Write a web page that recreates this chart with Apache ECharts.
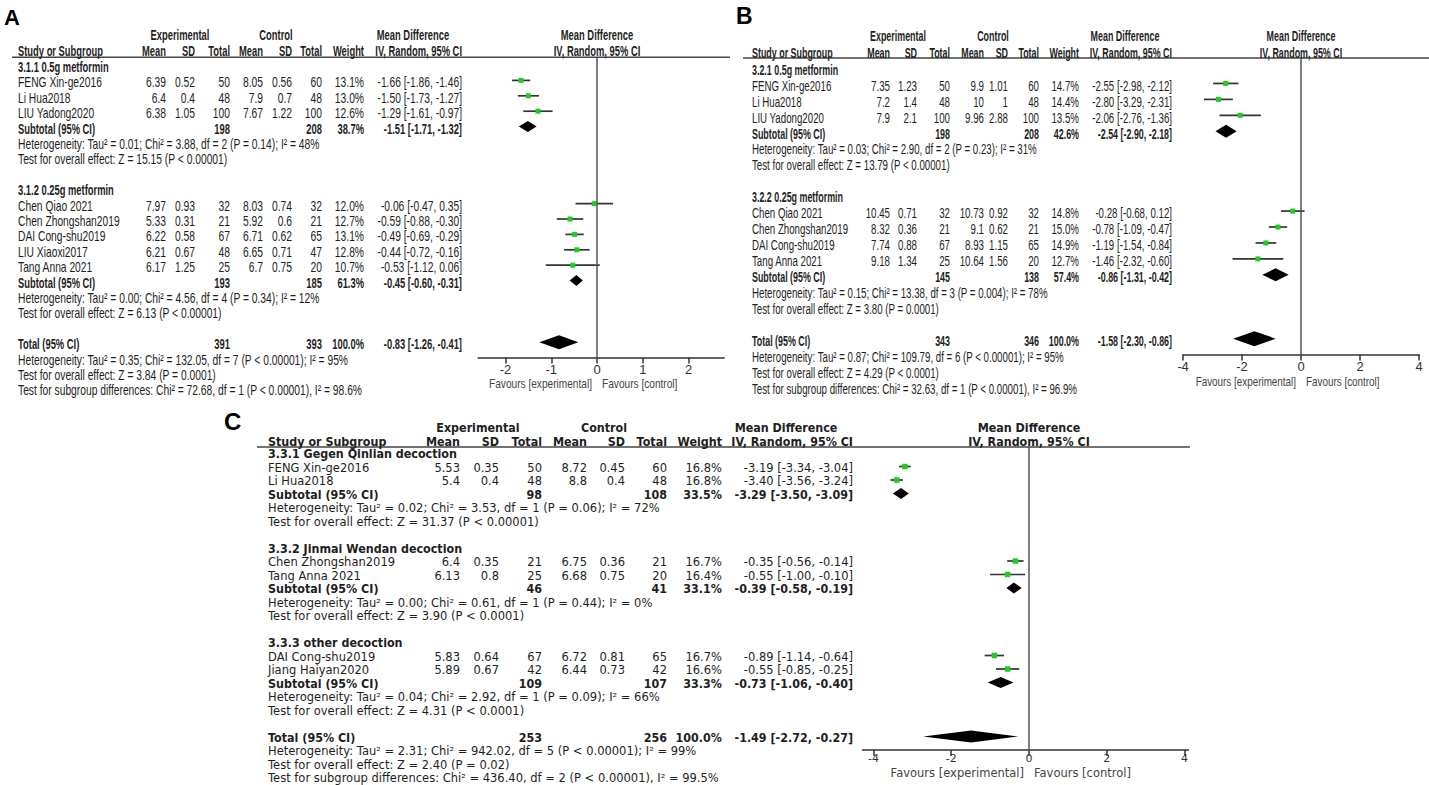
<!DOCTYPE html>
<html><head><meta charset="utf-8">
<script src="https://cdn.jsdelivr.net/npm/echarts@6/dist/echarts.min.js"></script>
<style>html,body{margin:0;padding:0;background:#fff}#c{width:1429px;height:785px}</style>
</head><body><div id="c"></div>
<script>
// ================= DATA =================
// study rows: [subgroup index, study, exp mean, exp SD, exp total, ctl mean, ctl SD, ctl total, weight %, MD, lower, upper]
const A_subgroups = ["3.1.1 0.5g metformin", "3.1.2 0.25g metformin"];
const A_studies = [
  [0, "FENG Xin-ge2016", 6.39, 0.52, 50, 8.05, 0.56, 60, 13.1, -1.66, -1.86, -1.46],
  [0, "Li Hua2018", 6.4, 0.4, 48, 7.9, 0.7, 48, 13.0, -1.50, -1.73, -1.27],
  [0, "LIU Yadong2020", 6.38, 1.05, 100, 7.67, 1.22, 100, 12.6, -1.29, -1.61, -0.97],
  [1, "Chen Qiao 2021", 7.97, 0.93, 32, 8.03, 0.74, 32, 12.0, -0.06, -0.47, 0.35],
  [1, "Chen Zhongshan2019", 5.33, 0.31, 21, 5.92, 0.6, 21, 12.7, -0.59, -0.88, -0.30],
  [1, "DAI Cong-shu2019", 6.22, 0.58, 67, 6.71, 0.62, 65, 13.1, -0.49, -0.69, -0.29],
  [1, "LIU Xiaoxi2017", 6.21, 0.67, 48, 6.65, 0.71, 47, 12.8, -0.44, -0.72, -0.16],
  [1, "Tang Anna 2021", 6.17, 1.25, 25, 6.7, 0.75, 20, 10.7, -0.53, -1.12, 0.06]
];
// subtotals: [exp total, ctl total, weight %, MD, lower, upper]
const A_subtotals = [[198, 208, 38.7, -1.51, -1.71, -1.32], [193, 185, 61.3, -0.45, -0.60, -0.31]];
const A_heterogeneity = ["Heterogeneity: Tau\u00b2 = 0.01; Chi\u00b2 = 3.88, df = 2 (P = 0.14); I\u00b2 = 48%",
                         "Heterogeneity: Tau\u00b2 = 0.00; Chi\u00b2 = 4.56, df = 4 (P = 0.34); I\u00b2 = 12%"];
const A_overallEffect = ["Test for overall effect: Z = 15.15 (P < 0.00001)", "Test for overall effect: Z = 6.13 (P < 0.00001)"];
const A_total = [391, 393, 100.0, -0.83, -1.26, -0.41];
const A_totalNotes = ["Heterogeneity: Tau\u00b2 = 0.35; Chi\u00b2 = 132.05, df = 7 (P < 0.00001); I\u00b2 = 95%",
                      "Test for overall effect: Z = 3.84 (P = 0.0001)",
                      "Test for subgroup differences: Chi\u00b2 = 72.68, df = 1 (P < 0.00001), I\u00b2 = 98.6%"];
const A_ticks = [-2, -1, 0, 1, 2];

const B_subgroups = ["3.2.1 0.5g metformin", "3.2.2 0.25g metformin"];
const B_studies = [
  [0, "FENG Xin-ge2016", 7.35, 1.23, 50, 9.9, 1.01, 60, 14.7, -2.55, -2.98, -2.12],
  [0, "Li Hua2018", 7.2, 1.4, 48, 10, 1, 48, 14.4, -2.80, -3.29, -2.31],
  [0, "LIU Yadong2020", 7.9, 2.1, 100, 9.96, 2.88, 100, 13.5, -2.06, -2.76, -1.36],
  [1, "Chen Qiao 2021", 10.45, 0.71, 32, 10.73, 0.92, 32, 14.8, -0.28, -0.68, 0.12],
  [1, "Chen Zhongshan2019", 8.32, 0.36, 21, 9.1, 0.62, 21, 15.0, -0.78, -1.09, -0.47],
  [1, "DAI Cong-shu2019", 7.74, 0.88, 67, 8.93, 1.15, 65, 14.9, -1.19, -1.54, -0.84],
  [1, "Tang Anna 2021", 9.18, 1.34, 25, 10.64, 1.56, 20, 12.7, -1.46, -2.32, -0.60]
];
const B_subtotals = [[198, 208, 42.6, -2.54, -2.90, -2.18], [145, 138, 57.4, -0.86, -1.31, -0.42]];
const B_heterogeneity = ["Heterogeneity: Tau\u00b2 = 0.03; Chi\u00b2 = 2.90, df = 2 (P = 0.23); I\u00b2 = 31%",
                         "Heterogeneity: Tau\u00b2 = 0.15; Chi\u00b2 = 13.38, df = 3 (P = 0.004); I\u00b2 = 78%"];
const B_overallEffect = ["Test for overall effect: Z = 13.79 (P < 0.00001)", "Test for overall effect: Z = 3.80 (P = 0.0001)"];
const B_total = [343, 346, 100.0, -1.58, -2.30, -0.86];
const B_totalNotes = ["Heterogeneity: Tau\u00b2 = 0.87; Chi\u00b2 = 109.79, df = 6 (P < 0.00001); I\u00b2 = 95%",
                      "Test for overall effect: Z = 4.29 (P < 0.0001)",
                      "Test for subgroup differences: Chi\u00b2 = 32.63, df = 1 (P < 0.00001), I\u00b2 = 96.9%"];
const B_ticks = [-4, -2, 0, 2, 4];

const C_subgroups = ["3.3.1 Gegen Qinlian decoction", "3.3.2 Jinmai Wendan decoction", "3.3.3 other decoction"];
const C_studies = [
  [0, "FENG Xin-ge2016", 5.53, 0.35, 50, 8.72, 0.45, 60, 16.8, -3.19, -3.34, -3.04],
  [0, "Li Hua2018", 5.4, 0.4, 48, 8.8, 0.4, 48, 16.8, -3.40, -3.56, -3.24],
  [1, "Chen Zhongshan2019", 6.4, 0.35, 21, 6.75, 0.36, 21, 16.7, -0.35, -0.56, -0.14],
  [1, "Tang Anna 2021", 6.13, 0.8, 25, 6.68, 0.75, 20, 16.4, -0.55, -1.00, -0.10],
  [2, "DAI Cong-shu2019", 5.83, 0.64, 67, 6.72, 0.81, 65, 16.7, -0.89, -1.14, -0.64],
  [2, "Jiang Haiyan2020", 5.89, 0.67, 42, 6.44, 0.73, 42, 16.6, -0.55, -0.85, -0.25]
];
const C_subtotals = [[98, 108, 33.5, -3.29, -3.50, -3.09], [46, 41, 33.1, -0.39, -0.58, -0.19], [109, 107, 33.3, -0.73, -1.06, -0.40]];
const C_heterogeneity = ["Heterogeneity: Tau\u00b2 = 0.02; Chi\u00b2 = 3.53, df = 1 (P = 0.06); I\u00b2 = 72%",
                         "Heterogeneity: Tau\u00b2 = 0.00; Chi\u00b2 = 0.61, df = 1 (P = 0.44); I\u00b2 = 0%",
                         "Heterogeneity: Tau\u00b2 = 0.04; Chi\u00b2 = 2.92, df = 1 (P = 0.09); I\u00b2 = 66%"];
const C_overallEffect = ["Test for overall effect: Z = 31.37 (P < 0.00001)", "Test for overall effect: Z = 3.90 (P < 0.0001)",
                         "Test for overall effect: Z = 4.31 (P < 0.0001)"];
const C_total = [253, 256, 100.0, -1.49, -2.72, -0.27];
const C_totalNotes = ["Heterogeneity: Tau\u00b2 = 2.31; Chi\u00b2 = 942.02, df = 5 (P < 0.00001); I\u00b2 = 99%",
                      "Test for overall effect: Z = 2.40 (P = 0.02)",
                      "Test for subgroup differences: Chi\u00b2 = 436.40, df = 2 (P < 0.00001), I\u00b2 = 99.5%"];
const C_ticks = [-4, -2, 0, 2, 4];

const HEAD = {exp: "Experimental", ctl: "Control", md: "Mean Difference", study: "Study or Subgroup", mean: "Mean",
  sd: "SD", total: "Total", weight: "Weight", method: "IV, Random, 95% CI", subtotal: "Subtotal (95% CI)",
  totalLbl: "Total (95% CI)", favL: "Favours [experimental]", favR: "Favours [control]"};

// ================= LAYOUT =================
const ARIAL = '"Liberation Sans", Arial, sans-serif';
const DEJAVU = '"DejaVu Sans", Verdana, sans-serif';
const panels = [
  {label: 'A', subgroups: A_subgroups, studies: A_studies, subtotals: A_subtotals, het: A_heterogeneity, overall: A_overallEffect,
   total: A_total, totalNotes: A_totalNotes, ticks: A_ticks,
   L: {font: {family: ARIAL, size: 14, sx: 0.735, bsx: 0.67}, fav: {family: ARIAL, size: 13, sx: 0.78}, tickFont: {family: ARIAL, size: 13},
       lab: {x: 4, y: 17, size: 22}, zeroX: 597, unit: 45.75, xMin: -2.6, xMax: 2.78, rowY0: 65, rowH: 15.4, yMin: -0.5, yMax: 19,
       dy: 2.5, sq: 5, dSub: 5.5, dTot: 7, favDy: 25, tickMargin: 5,
       cols: {name: 18, eM: 166, eSD: 195, eN: 230, cM: 263, cSD: 292, cN: 322, w: 364, ci: 462, expC: 180, ctlC: 276, mdC: 413,
              h1: 35, h2: 51.5, lx1: 12, lx2: 730}}},
  {label: 'B', subgroups: B_subgroups, studies: B_studies, subtotals: B_subtotals, het: B_heterogeneity, overall: B_overallEffect,
   total: B_total, totalNotes: B_totalNotes, ticks: B_ticks,
   L: {font: {family: ARIAL, size: 14.5, sx: 0.67, bsx: 0.615}, fav: {family: ARIAL, size: 13, sx: 0.76}, tickFont: {family: ARIAL, size: 13},
       lab: {x: 736, y: 16, size: 23}, zeroX: 1301, unit: 29.5, xMin: -4, xMax: 4, rowY0: 67.5, rowH: 15.95, yMin: -0.6, yMax: 18,
       dy: 2.5, sq: 5, dSub: 6.5, dTot: 7.5, favDy: 27, tickMargin: 5,
       cols: {name: 752, eM: 890, eSD: 917, eN: 950, cM: 984, cSD: 1008, cN: 1039, w: 1079, ci: 1172, expC: 898, ctlC: 993, mdC: 1125,
              h1: 36, h2: 53, lx1: 743, lx2: 1429}}},
  {label: 'C', subgroups: C_subgroups, studies: C_studies, subtotals: C_subtotals, het: C_heterogeneity, overall: C_overallEffect,
   total: C_total, totalNotes: C_totalNotes, ticks: C_ticks,
   L: {font: {family: DEJAVU, size: 11.5, sx: 1, bsx: 0.97}, fav: {family: DEJAVU, size: 11.5, sx: 1}, tickFont: {family: DEJAVU, size: 11},
       lab: {x: 224, y: 421, size: 24}, zeroX: 1029, unit: 38.9, xMin: -4.28, xMax: 4.1, rowY0: 453, rowH: 13.5, yMin: -0.44, yMax: 22,
       dy: 1, sq: 5.5, dSub: 5.5, dTot: 6, favDy: 23, tickMargin: 3,
       cols: {name: 268, eM: 460, eSD: 499, eN: 542, cM: 587, cSD: 625, cN: 667, w: 722, ci: 853, expC: 478, ctlC: 604, mdC: 786,
              h1: 428, h2: 442, lx1: 257, lx2: 1190}}}
];

function layoutRows(p) {
  let r = 0; const out = [];
  p.subgroups.forEach((sg, g) => {
    out.push({kind: 'section', row: r++, text: sg});
    p.studies.filter(s => s[0] === g).forEach(s => out.push({kind: 'study', row: r++, d: s}));
    out.push({kind: 'subtotal', row: r++, d: p.subtotals[g]});
    out.push({kind: 'note', row: r++, text: p.het[g]});
    out.push({kind: 'note', row: r++, text: p.overall[g]});
    r++;
  });
  out.push({kind: 'total', row: r++, d: p.total});
  p.totalNotes.forEach(t => out.push({kind: 'note', row: r++, text: t}));
  return out;
}

const chart = echarts.init(document.getElementById('c'), null, {renderer: 'svg', width: 1429, height: 785});
const grids = [], xAxes = [], yAxes = [], series = [];
panels.forEach((p, gi) => {
  const L = p.L;
  p.rows = layoutRows(p);
  grids.push({left: L.zeroX + L.xMin * L.unit, width: (L.xMax - L.xMin) * L.unit,
              top: L.rowY0 + L.yMin * L.rowH, height: (L.yMax - L.yMin) * L.rowH,
              containLabel: false, outerBoundsMode: 'none'});
  xAxes.push({type: 'value', gridIndex: gi, min: L.xMin, max: L.xMax, position: 'bottom',
    axisLine: {show: true, onZero: false, lineStyle: {color: '#333', width: 1.5}},
    axisTick: {show: true, customValues: p.ticks, length: 6, lineStyle: {color: '#333', width: 1.5}},
    axisLabel: {show: true, customValues: p.ticks, color: '#333', fontSize: L.tickFont.size, fontFamily: L.tickFont.family,
                margin: L.tickMargin, formatter: v => String(v)},
    splitLine: {show: false}});
  yAxes.push({type: 'value', gridIndex: gi, inverse: true, min: L.yMin, max: L.yMax, show: false});
  const data = [];
  p.rows.forEach(r => {
    if (r.kind === 'study') data.push([r.d[9], r.row, r.d[10], r.d[11], 0, r.d[8]]);
    if (r.kind === 'subtotal') data.push([r.d[3], r.row, r.d[4], r.d[5], 1, r.d[2]]);
    if (r.kind === 'total') data.push([r.d[3], r.row, r.d[4], r.d[5], 2, r.d[2]]);
  });
  series.push({type: 'custom', xAxisIndex: gi, yAxisIndex: gi, clip: false, silent: true, animation: false,
    encode: {x: 0, y: 1}, data,
    renderItem: (params, api) => {
      const est = api.value(0), row = api.value(1), lo = api.value(2), hi = api.value(3), kind = api.value(4);
      const c = api.coord([est, row]), pl = api.coord([lo, row]), ph = api.coord([hi, row]);
      if (kind === 0) {
        const s = L.sq;
        return {type: 'group', children: [
          {type: 'line', shape: {x1: pl[0], y1: c[1], x2: ph[0], y2: c[1]}, style: {stroke: '#333', lineWidth: 1.7}},
          {type: 'rect', shape: {x: c[0] - s / 2, y: c[1] - s / 2, width: s, height: s}, style: {fill: '#1fcc1f'}}
        ]};
      }
      const h = kind === 1 ? L.dSub : L.dTot;
      return {type: 'polygon', shape: {points: [[pl[0], c[1]], [c[0], c[1] - h], [ph[0], c[1]], [c[0], c[1] + h]]},
              style: {fill: '#000'}};
    },
    markLine: {silent: true, symbol: 'none', animation: false, label: {show: false},
               lineStyle: {color: '#555', width: 1.5, type: 'solid'}, data: [{xAxis: 0}]}
  });
});

chart.setOption({backgroundColor: '#fff', animation: false, grid: grids, xAxis: xAxes, yAxis: yAxes, series});

function T(x, y, s, f, opt) {
  opt = opt || {};
  const al = opt.align || 'left';
  const sx = opt.bold ? (f.bsx || f.sx || 1) : (f.sx || 1);
  return {type: 'text', x: x, y: y, scaleX: sx, silent: true, z: 10,
    style: {text: String(s), x: 0, y: 0, fill: opt.color || '#1e1e1e', fontSize: opt.size || f.size, fontFamily: f.family,
            fontWeight: opt.bold ? 'bold' : 'normal', align: al, textAlign: al, verticalAlign: 'middle', textVerticalAlign: 'middle'}};
}
const fmt2 = v => v.toFixed(2);
const ciText = d => fmt2(d[0]) + ' [' + fmt2(d[1]) + ', ' + fmt2(d[2]) + ']';

const graphics = [];
panels.forEach((p, gi) => {
  const L = p.L, c = L.cols, f = L.font;
  const px = (x, y) => chart.convertToPixel({gridIndex: gi}, [x, y]);
  const z0 = px(0, 0)[0];
  const topY = px(0, L.yMin)[1];
  const axisY = px(0, L.yMax)[1];
  const rowY = row => px(0, row)[1] + L.dy;
  graphics.push(T(L.lab.x, L.lab.y, p.label, {family: ARIAL, size: L.lab.size}, {bold: true, color: '#000'}));
  graphics.push({type: 'line', silent: true, z: 5, shape: {x1: c.lx1, y1: topY, x2: c.lx2, y2: topY}, style: {stroke: '#444', lineWidth: 1.5}});
  graphics.push(T(c.expC, c.h1, HEAD.exp, f, {bold: true, align: 'center'}));
  graphics.push(T(c.ctlC, c.h1, HEAD.ctl, f, {bold: true, align: 'center'}));
  graphics.push(T(c.mdC, c.h1, HEAD.md, f, {bold: true, align: 'center'}));
  graphics.push(T(z0, c.h1, HEAD.md, f, {bold: true, align: 'center'}));
  graphics.push(T(c.name, c.h2, HEAD.study, f, {bold: true}));
  [['eM', HEAD.mean], ['eSD', HEAD.sd], ['eN', HEAD.total], ['cM', HEAD.mean], ['cSD', HEAD.sd], ['cN', HEAD.total],
   ['w', HEAD.weight], ['ci', HEAD.method]].forEach(([k, s]) => graphics.push(T(c[k], c.h2, s, f, {bold: true, align: 'right'})));
  graphics.push(T(z0, c.h2, HEAD.method, f, {bold: true, align: 'center'}));
  p.rows.forEach(r => {
    const y = rowY(r.row);
    if (r.kind === 'section') graphics.push(T(c.name, y, r.text, f, {bold: true}));
    else if (r.kind === 'note') graphics.push(T(c.name, y, r.text, f));
    else if (r.kind === 'study') {
      const d = r.d;
      graphics.push(T(c.name, y, d[1], f));
      [['eM', d[2]], ['eSD', d[3]], ['eN', d[4]], ['cM', d[5]], ['cSD', d[6]], ['cN', d[7]],
       ['w', d[8].toFixed(1) + '%'], ['ci', ciText([d[9], d[10], d[11]])]].forEach(([k, s]) =>
        graphics.push(T(c[k], y, s, f, {align: 'right'})));
    } else {
      const d = r.d;
      graphics.push(T(c.name, y, r.kind === 'subtotal' ? HEAD.subtotal : HEAD.totalLbl, f, {bold: true}));
      [['eN', d[0]], ['cN', d[1]], ['w', d[2].toFixed(1) + '%'], ['ci', ciText([d[3], d[4], d[5]])]].forEach(([k, s]) =>
        graphics.push(T(c[k], y, s, f, {bold: true, align: 'right'})));
    }
  });
  graphics.push(T(z0 - 5, axisY + L.favDy, HEAD.favL, L.fav, {align: 'right', color: '#444'}));
  graphics.push(T(z0 + 5, axisY + L.favDy, HEAD.favR, L.fav, {align: 'left', color: '#444'}));
});
chart.setOption({graphic: {elements: graphics}});
</script>
</body></html>
